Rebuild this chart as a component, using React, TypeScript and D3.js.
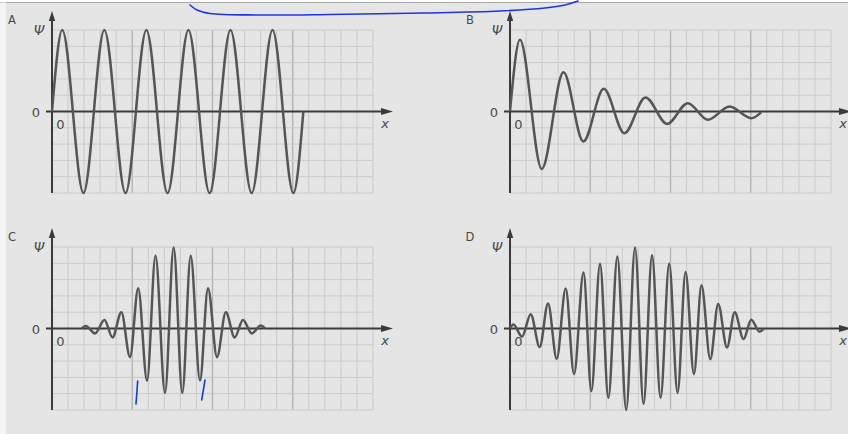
import { useEffect, useRef } from 'react'
import * as d3 from 'd3'

// wave extrema, x in grid cells (0..20), psi in cells (-5..5)
const waveAX = [0, 0.64, 1.96, 3.26, 4.58, 5.88, 7.2, 8.5, 9.82, 11.12, 12.44, 13.74, 15.04, 15.66]
const waveAY = [0, 5, -5, 5, -5, 5, -5, 5, -5, 5, -5, 5, -5, 0]

const waveBX = [0, 0.62, 1.98, 3.33, 4.57, 5.84, 7.13, 8.44, 9.79, 11.08, 12.33, 13.68, 15.03, 15.65]
const waveBY = [0, 4.4, -3.52, 2.41, -1.84, 1.39, -1.33, 0.86, -0.76, 0.51, -0.51, 0.31, -0.41, -0.05]

const waveCX = [1.85, 2.1, 2.68, 3.27, 3.77, 4.32, 4.86, 5.37, 5.92, 6.45, 7.04, 7.58, 8.12, 8.64, 9.22, 9.72, 10.28, 10.83, 11.38, 11.9, 12.45, 13.01, 13.27]
const waveCY = [0, 0.16, -0.3, 0.52, -0.55, 1.0, -1.76, 2.47, -3.2, 4.46, -3.95, 4.97, -3.95, 4.46, -3.19, 2.47, -1.76, 1.0, -0.55, 0.52, -0.3, 0.18, 0]

const waveDX = [0, 0.21, 0.75, 1.29, 1.85, 2.37, 2.91, 3.47, 3.99, 4.58, 5.07, 5.61, 6.13, 6.69, 7.24, 7.79, 8.32, 8.85, 9.38, 9.92, 10.44, 10.94, 11.46, 11.93, 12.48, 12.97, 13.52, 14.0, 14.55, 15.03, 15.55, 15.82]
const waveDY = [0, 0.24, -0.5, 0.88, -1.14, 1.54, -1.86, 2.46, -2.8, 3.44, -3.84, 3.98, -4.25, 4.42, -5.0, 4.97, -4.62, 4.5, -4.25, 3.97, -3.95, 3.47, -2.8, 2.65, -1.88, 1.51, -1.17, 0.99, -0.65, 0.54, -0.2, 0]

const panelNames = ['A', 'B', 'C', 'D']
const panelWaves = [
  [waveAX, waveAY],
  [waveBX, waveBY],
  [waveCX, waveCY],
  [waveDX, waveDY],
]

// blue pen marks on the scan (pixel coords)
const penTop = [[190, 5], [197, 10], [210, 13.5], [260, 15], [330, 14.5], [424, 13], [500, 11], [545, 8], [565, 5], [578, 1]]
const penC1 = [[137.7, 381], [136, 404]]
const penC2 = [[205, 380], [201.7, 400]]

const W = 848
const H = 434
const colLeft = [52, 510]
const rowTop = [30, 247]
const gridW = 321
const gridH = 163

export default function App() {
  const ref = useRef<SVGSVGElement>(null)

  useEffect(() => {
    const svg = d3.select(ref.current)
    svg.selectAll('*').remove()

    svg.append('rect').attr('width', W).attr('height', H).attr('fill', '#e5e5e5')
    svg.append('rect').attr('width', W).attr('height', 2.5).attr('fill', '#ffffff')
    svg.append('line').attr('x1', 0).attr('x2', W).attr('y1', 2.5).attr('y2', 2.5)
      .attr('stroke', '#a8a8a8').attr('stroke-width', 1)
    svg.append('rect').attr('y', 2.5).attr('width', 6).attr('height', H).attr('fill', '#f4f4f4')

    const font = 'DejaVu Sans, sans-serif'

    panelNames.forEach((name, i) => {
      const left = colLeft[i % 2]
      const top = rowTop[Math.floor(i / 2)]
      const x = d3.scaleLinear().domain([0, 20]).range([left, left + gridW])
      const y = d3.scaleLinear().domain([-5, 5]).range([top + gridH, top])
      const g = svg.append('g')

      // grid
      g.selectAll('.vg')
        .data(d3.range(0, 21))
        .enter()
        .append('line')
        .attr('x1', (d) => x(d)).attr('x2', (d) => x(d))
        .attr('y1', y(-5)).attr('y2', y(5))
        .attr('stroke', (d) => (d % 5 === 0 && d > 0 && d < 20 ? '#b0b0b0' : '#cacaca'))
        .attr('stroke-width', (d) => (d % 5 === 0 && d > 0 && d < 20 ? 1.3 : 1))
      g.selectAll('.hg')
        .data(d3.range(-5, 6))
        .enter()
        .append('line')
        .attr('x1', x(0)).attr('x2', x(20))
        .attr('y1', (d) => y(d)).attr('y2', (d) => y(d))
        .attr('stroke', '#cacaca')
        .attr('stroke-width', 1)

      // axes
      const axisColor = '#3a3a3a'
      g.append('line')
        .attr('x1', x(0)).attr('x2', x(0))
        .attr('y1', y(-5)).attr('y2', top - 12)
        .attr('stroke', axisColor).attr('stroke-width', 2)
      g.append('path')
        .attr('d', `M${x(0)},${top - 19} L${x(0) - 3.2},${top - 9} L${x(0) + 3.2},${top - 9} Z`)
        .attr('fill', axisColor)
      g.append('line')
        .attr('x1', x(0) - 6).attr('x2', x(0) + 330)
        .attr('y1', y(0)).attr('y2', y(0))
        .attr('stroke', axisColor).attr('stroke-width', 2)
      g.append('path')
        .attr('d', `M${x(0) + 341},${y(0)} L${x(0) + 329},${y(0) - 3.6} L${x(0) + 329},${y(0) + 3.6} Z`)
        .attr('fill', axisColor)

      // wave
      const [wx, wy] = panelWaves[i]
      const line = d3
        .line<number>()
        .x((_, k) => x(wx[k]))
        .y((d) => y(d))
        .curve(d3.curveMonotoneX)
      g.append('path')
        .attr('d', line(wy))
        .attr('fill', 'none')
        .attr('stroke', '#555555')
        .attr('stroke-width', 2.5)
        .attr('stroke-linejoin', 'round')

      // labels
      const txt = (s, tx, ty, size, italic = false) =>
        g.append('text')
          .text(s)
          .attr('x', tx).attr('y', ty)
          .attr('text-anchor', 'middle')
          .style('font-family', font)
          .style('font-size', size + 'px')
          .style('font-style', italic ? 'italic' : 'normal')
          .style('fill', '#484848')
      txt(name, left - 40, top - 6, 11.5)
      txt('Ψ', left - 13, top + 5, 13.5, true)
      txt('0', left - 16, y(0) + 5.5, 13)
      txt('0', left + 8.5, y(0) + 17, 13)
      txt('x', left + 333, y(0) + 16, 13, true)
    })

    const pen = d3.line().curve(d3.curveCatmullRom)
    ;[penTop, penC1, penC2].forEach((pts) => {
      svg.append('path')
        .attr('d', pen(pts as [number, number][]))
        .attr('fill', 'none')
        .attr('stroke', '#1f35e0')
        .attr('stroke-width', 1.6)
        .attr('stroke-linecap', 'round')
    })
  }, [])

  return <svg ref={ref} width={W} height={H} style={{ position: 'absolute', left: 0, top: 0 }} />
}
